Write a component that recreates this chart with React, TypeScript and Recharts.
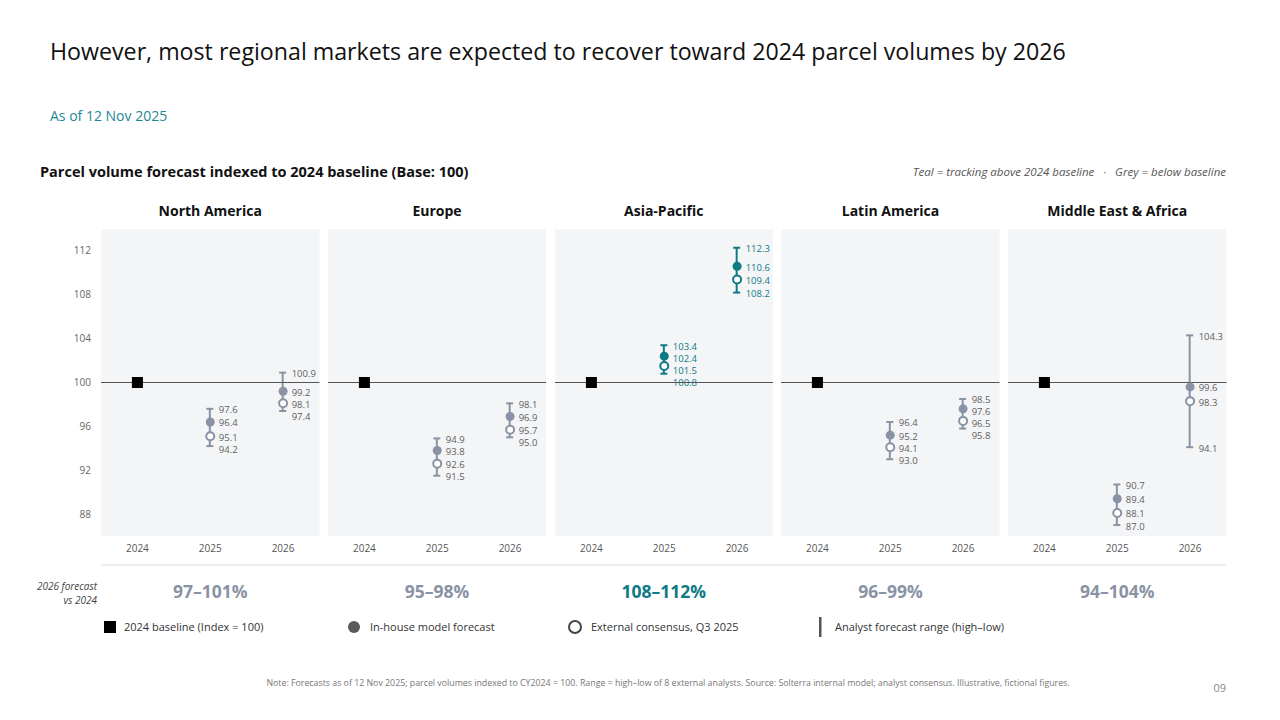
import React from 'react'
import { ComposedChart, Bar, Scatter, XAxis, YAxis, CartesianGrid, ReferenceLine } from 'recharts'

// data
const regions = ['North America', 'Europe', 'Asia-Pacific', 'Latin America', 'Middle East & Africa']
const years = ['2024', '2025', '2026']
const baselineIndex = 100

const inHouse2025 = [96.4, 93.8, 102.4, 95.2, 89.4]
const inHouse2026 = [99.2, 96.9, 110.6, 97.6, 99.6]
const consensus2025 = [95.1, 92.6, 101.5, 94.1, 88.1]
const consensus2026 = [98.1, 95.7, 109.4, 96.5, 98.3]
const high2025 = [97.6, 94.9, 103.4, 96.4, 90.7]
const low2025 = [94.2, 91.5, 100.8, 93.0, 87.0]
const high2026 = [100.9, 98.1, 112.3, 98.5, 104.3]
const low2026 = [97.4, 95.0, 108.2, 95.8, 94.1]

const summaryLabels = ['97–101%', '95–98%', '108–112%', '96–99%', '94–104%']
const yTicks = [88, 92, 96, 100, 104, 108, 112]

const TEAL = '#0e7a85'
const GREY = '#8a93a5'
const LABEL_GREY = '#5e5e5e'
const FONT = '"Open Sans", sans-serif'

const PANEL_LEFT = 101
const PANEL_STEP = 226.75
const PANEL_W = 218.5
const PANEL_TOP = 229
const PLOT_H = 307
const XAXIS_H = 24
const YAXIS_W = 40

const buildRows = (i: number) => [
  { year: years[0], baseline: baselineIndex, inHouse: null, consensus: null, low: null, high: null },
  { year: years[1], baseline: null, inHouse: inHouse2025[i], consensus: consensus2025[i], low: low2025[i], high: high2025[i] },
  { year: years[2], baseline: null, inHouse: inHouse2026[i], consensus: consensus2026[i], low: low2026[i], high: high2026[i] },
]

const isAbove = (i: number) => inHouse2025[i] > baselineIndex && inHouse2026[i] > baselineIndex

// range whisker + the four value labels, placed from the bar's own scaled y / height
const RangeShape = (props: any) => {
  const { x, y, width, height, payload, color, textColor } = props
  if (!payload || payload.high == null || !isFinite(y) || !isFinite(height)) return <g />
  const cx = x + width / 2
  const perUnit = height / (payload.high - payload.low)
  const toY = (v: number) => y + (payload.high - v) * perUnit
  const values = [payload.high, payload.inHouse, payload.consensus, payload.low]
  let prev = -Infinity
  const labelYs = values.map((v) => {
    const ly = Math.max(toY(v), prev + 12)
    prev = ly
    return ly
  })
  return (
    <g>
      <line x1={cx} x2={cx} y1={y} y2={y + height} stroke={color} strokeWidth={2} />
      <line x1={cx - 3.5} x2={cx + 3.5} y1={y} y2={y} stroke={color} strokeWidth={2} />
      <line x1={cx - 3.5} x2={cx + 3.5} y1={y + height} y2={y + height} stroke={color} strokeWidth={2} />
      {values.map((v, k) => (
        <text key={k} x={cx + 9} y={labelYs[k] + 1} dominantBaseline="central" fontSize={9.5} fontFamily={FONT} fill={textColor}>
          {v.toFixed(1)}
        </text>
      ))}
    </g>
  )
}

const RegionPanel = ({ index }: { index: number }) => {
  const data = buildRows(index)
  const color = isAbove(index) ? TEAL : GREY
  const textColor = isAbove(index) ? TEAL : LABEL_GREY
  const first = index === 0
  const left = PANEL_LEFT + index * PANEL_STEP - (first ? YAXIS_W : 0)
  const width = PANEL_W + (first ? YAXIS_W : 0)

  return (
    <div style={{ position: 'absolute', left, top: PANEL_TOP }}>
      <ComposedChart width={width} height={PLOT_H + XAXIS_H} data={data} margin={{ top: 0, right: 0, bottom: 0, left: 0 }}>
        <CartesianGrid fill="#f4f5f7" stroke="none" horizontal={false} vertical={false} />
        <XAxis dataKey="year" axisLine={false} tickLine={false} tickSize={0} tickMargin={9} height={XAXIS_H}
          tick={{ fontSize: 10, fill: '#555', fontFamily: FONT }} />
        <YAxis type="number" domain={[86, 114]} ticks={yTicks} allowDataOverflow hide={!first} width={YAXIS_W}
          axisLine={false} tickLine={false} tickSize={0} tickMargin={10}
          tick={{ fontSize: 10, fill: '#666', fontFamily: FONT }} />
        <ReferenceLine y={baselineIndex} stroke="#555" strokeWidth={1} />
        <Bar dataKey={(d: any) => (d.high == null ? null : [d.low, d.high])} barSize={4} isAnimationActive={false}
          shape={(p: any) => <RangeShape {...p} color={color} textColor={textColor} />} />
        <Scatter dataKey="baseline" isAnimationActive={false}
          shape={(p: any) => (p.payload?.baseline == null || !isFinite(p.cy) ? <g /> :
            <rect x={p.cx - 5.5} y={p.cy - 5.5} width={11} height={11} fill="#000" />)} />
        <Scatter dataKey="inHouse" isAnimationActive={false}
          shape={(p: any) => (p.payload?.inHouse == null || !isFinite(p.cy) ? <g /> :
            <circle cx={p.cx} cy={p.cy} r={4.5} fill={color} />)} />
        <Scatter dataKey="consensus" isAnimationActive={false}
          shape={(p: any) => (p.payload?.consensus == null || !isFinite(p.cy) ? <g /> :
            <circle cx={p.cx} cy={p.cy} r={4} fill="#fff" stroke={color} strokeWidth={2} />)} />
      </ComposedChart>
    </div>
  )
}

const App = () => {
  const centers = regions.map((_, i) => PANEL_LEFT + i * PANEL_STEP + PANEL_W / 2)
  return (
    <div style={{ position: 'absolute', left: 0, top: 0, width: 1280, height: 720, background: '#fff', fontFamily: FONT }}>
      <svg width={1280} height={720} style={{ position: 'absolute', left: 0, top: 0 }} fontFamily={FONT}>
        <text x={50} y={60} fontSize={23.2} fill="#111">
          However, most regional markets are expected to recover toward 2024 parcel volumes by 2026
        </text>
        <text x={50} y={121} fontSize={14} fill="#1d8794">As of 12 Nov 2025</text>
        <text x={40} y={177} fontSize={14.5} fontWeight={700} fill="#111">
          Parcel volume forecast indexed to 2024 baseline (Base: 100)
        </text>
        <text x={1226} y={176} fontSize={11.5} fontStyle="italic" fill="#555" textAnchor="end">
          {'Teal = tracking above 2024 baseline\u00a0\u00a0\u00a0·\u00a0\u00a0\u00a0Grey = below baseline'}
        </text>
        {regions.map((r, i) => (
          <text key={r} x={centers[i]} y={216} fontSize={14} fontWeight={700} fill="#111" textAnchor="middle">{r}</text>
        ))}

        <line x1={101} x2={1226} y1={565} y2={565} stroke="#ddd" strokeWidth={1} />
        <text x={97} y={590} fontSize={10} fontStyle="italic" fill="#444" textAnchor="end">2026 forecast</text>
        <text x={97} y={604} fontSize={10} fontStyle="italic" fill="#444" textAnchor="end">vs 2024</text>
        {summaryLabels.map((s, i) => (
          <text key={s} x={centers[i]} y={598} fontSize={17.5} fontWeight={700} textAnchor="middle"
            fill={isAbove(i) ? TEAL : GREY}>{s}</text>
        ))}

        <rect x={104} y={621} width={12} height={12} fill="#000" />
        <text x={124} y={631} fontSize={11} fill="#333">2024 baseline (Index = 100)</text>
        <circle cx={354} cy={627} r={6} fill="#5a5a5a" />
        <text x={370} y={631} fontSize={11} fill="#333">In-house model forecast</text>
        <circle cx={575} cy={627} r={6} fill="#fff" stroke="#444" strokeWidth={2} />
        <text x={591} y={631} fontSize={11} fill="#333">External consensus, Q3 2025</text>
        <rect x={819} y={617} width={2.5} height={20} fill="#555" />
        <text x={835} y={631} fontSize={11} fill="#333">Analyst forecast range (high–low)</text>

        <text x={668} y={686} fontSize={8.8} fill="#777" textAnchor="middle">
          Note: Forecasts as of 12 Nov 2025; parcel volumes indexed to CY2024 = 100. Range = high–low of 8 external analysts. Source: Solterra internal model; analyst consensus. Illustrative, fictional figures.
        </text>
        <text x={1226} y={692} fontSize={11} fill="#888" textAnchor="end">09</text>
      </svg>
      {regions.map((r, i) => (
        <RegionPanel key={r} index={i} />
      ))}
    </div>
  )
}

export default App
